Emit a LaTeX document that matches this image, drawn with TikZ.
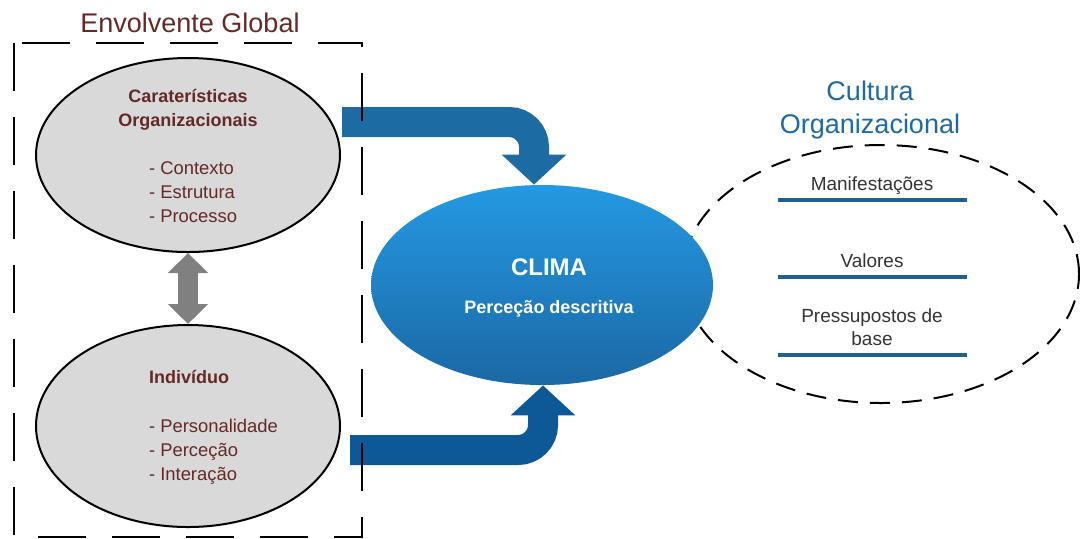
\documentclass[tikz,border=0pt]{standalone}
\usepackage{fontspec}
\setmainfont{Liberation Sans}
\usetikzlibrary{arrows.meta,shapes.geometric}

\definecolor{castanho}{HTML}{632A27}
\definecolor{azulTitulo}{HTML}{1F6AA5}
\definecolor{azulLinha}{HTML}{1F6096}
\definecolor{azulA}{HTML}{1C6BA3}
\definecolor{azulB}{HTML}{0D5897}
\definecolor{climaTopo}{HTML}{2499E3}
\definecolor{climaBase}{HTML}{1B68A4}
\definecolor{cinzaSeta}{HTML}{808080}
\definecolor{cinzaFundo}{HTML}{D9D9D9}
\definecolor{textoCinza}{HTML}{333333}

\tikzset{
  elipse/.style={ellipse, draw=black, line width=1pt, fill=cinzaFundo, inner sep=0pt},
  titulo/.style={font=\fontsize{13.5}{16}\selectfont, anchor=base},
  cabeca/.style={font=\bfseries\fontsize{9}{11}\selectfont, text=castanho, anchor=base},
  item/.style={font=\fontsize{9.2}{12}\selectfont, text=castanho, anchor=base west},
  seta/.style={line width=15pt, rounded corners=12.5pt, -{Triangle[width=31.5pt, length=15pt]}},
  nivel/.style={font=\fontsize{9.5}{12}\selectfont, text=textoCinza, anchor=base},
  linha/.style={line width=2pt, azulLinha}
}

\begin{document}
\begin{tikzpicture}[x=0.5pt, y=-0.5pt]
    \useasboundingbox (0,0) rectangle (1080,538);

    \node[titulo, text=castanho] (tenv) at (190,32) {Envolvente Global};

    % elipses cinzentas
    \node[elipse, minimum width=152pt, minimum height=97pt] (orgs) at (188,155) {};
    \node[elipse, minimum width=152pt, minimum height=101pt] (indiv) at (188,426) {};

    \node[cabeca] (h1) at (188,102) {Caraterísticas};
    \node[cabeca] (h2) at (188,126) {Organizacionais};
    \node[item] (c1) at (142,174) {- Contexto};
    \node[item] (c2) at (142,198) {- Estrutura};
    \node[item] (c3) at (142,222) {- Processo};

    \node[cabeca] (h3) at (189,383) {Indivíduo};
    \node[item] (i1) at (142,432) {- Personalidade};
    \node[item] (i2) at (142,456) {- Perceção};
    \node[item] (i3) at (142,480) {- Interação};

    % seta dupla entre as elipses
    \draw[line width=10pt, cinzaSeta, {Triangle[width=19.5pt, length=10pt]}-{Triangle[width=19.5pt, length=10pt]}]
        (orgs.south) -- (indiv.north);

    % cultura organizacional
    \node[titulo, text=azulTitulo] (tcult1) at (870,100) {Cultura};
    \node[titulo, text=azulTitulo] (tcult2) at (870,133) {Organizacional};
    \node[ellipse, draw, line width=1pt, dash pattern=on 10pt off 6pt,
          minimum width=198pt, minimum height=129pt] (cultura) at (881,274) {};

    \node[nivel] (n1) at (872,190) {Manifestações};
    \draw[linha] (778,200) -- (967,200);
    \node[nivel] (n2) at (872,267) {Valores};
    \draw[linha] (778,277) -- (967,277);
    \node[nivel] (n3) at (872,322) {Pressupostos de};
    \node[nivel] (n4) at (872,345) {base};
    \draw[linha] (778,355) -- (967,355);

    % clima
    \node[ellipse, minimum width=171pt, minimum height=100pt, inner sep=0pt,
          top color=climaTopo, bottom color=climaBase] (clima) at (542,285) {};
    \node[font=\bfseries\fontsize{12}{14}\selectfont, text=white, anchor=base] (tclima) at (549,275) {CLIMA};
    \node[font=\bfseries\fontsize{9}{11}\selectfont, text=white, anchor=base] (tperc) at (549,313) {Perceção descritiva};

    % setas azuis para o clima
    \coordinate (p1) at (342,122);
    \coordinate (p2) at (350,450);
    \draw[seta, azulA] (p1) -| ([xshift=-4pt]clima.north);
    \draw[seta, azulB] (p2) -| ([xshift=0.5pt]clima.south);

    % envolvente global (caixa tracejada, por cima das setas)
    \draw[line width=1.25pt, dash pattern=on 24pt off 13pt] (14,43) rectangle (362,537);

\end{tikzpicture}
\end{document}
